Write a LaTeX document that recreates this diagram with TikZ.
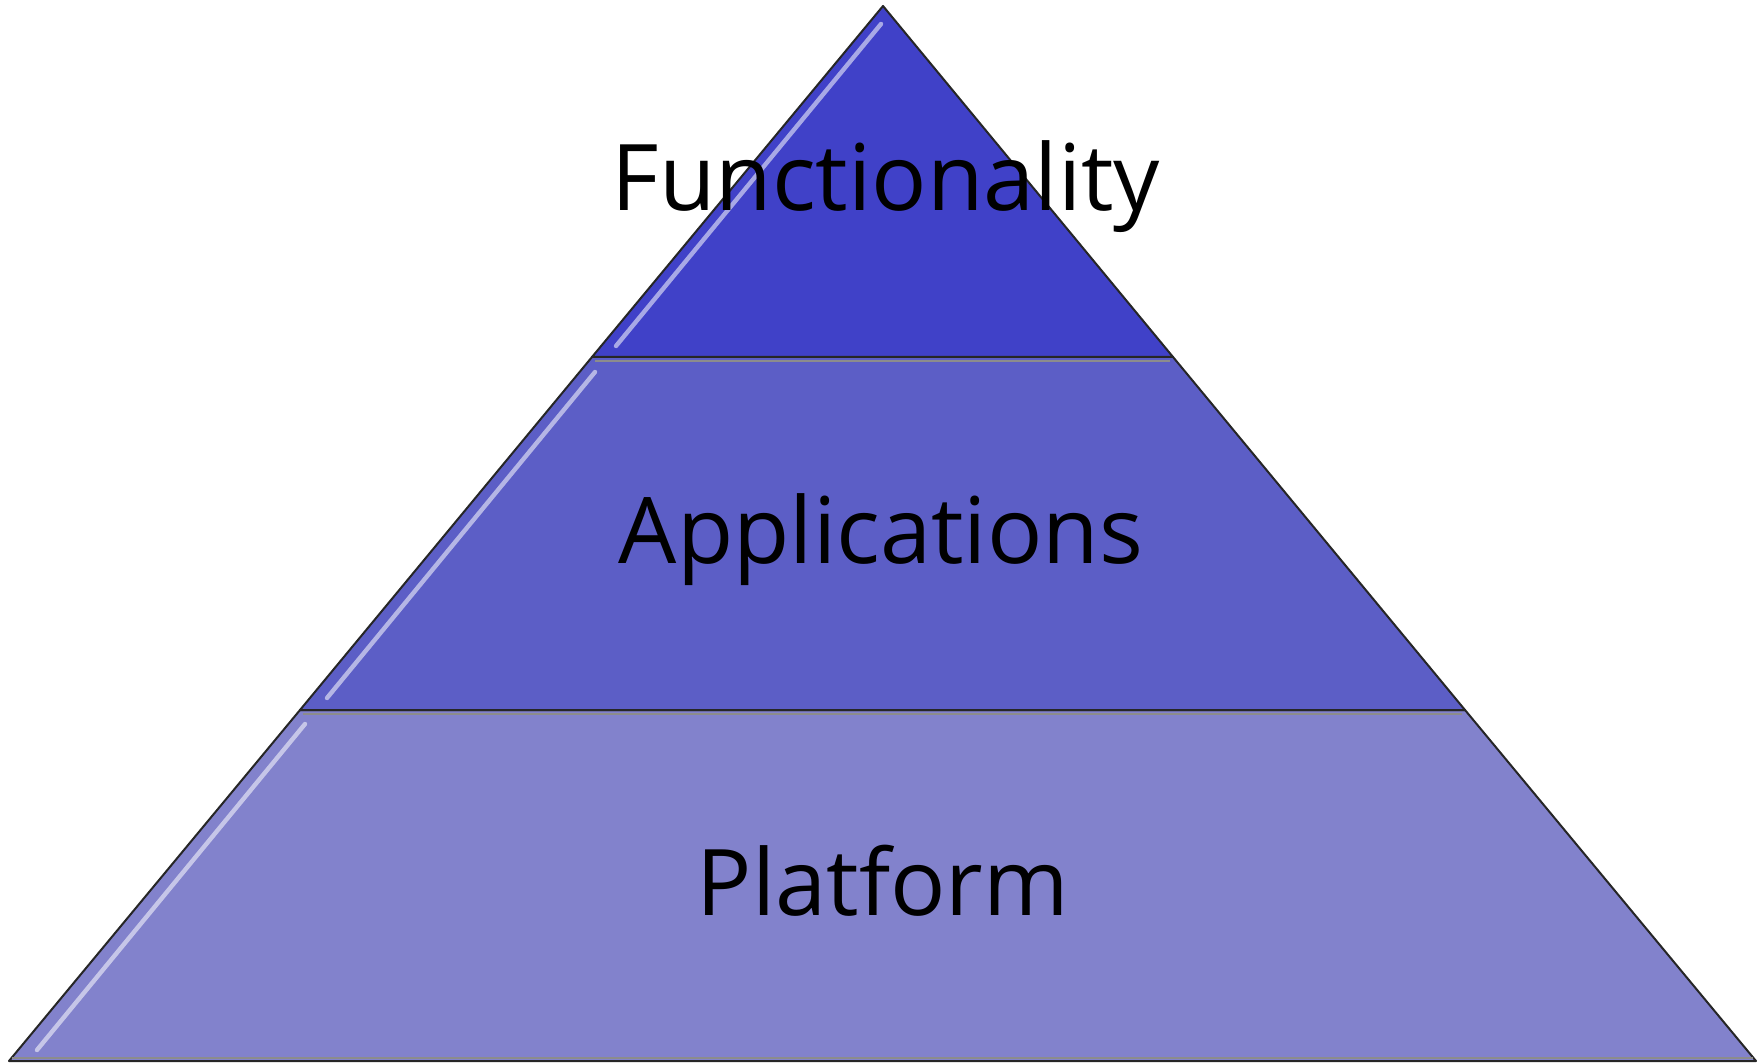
\documentclass[tikz,border=0pt]{standalone}
\usepackage{fontspec}
\setmainfont{Open Sans}
\usetikzlibrary{calc}
\definecolor{topc}{RGB}{64,65,200}
\definecolor{midc}{RGB}{92,94,198}
\definecolor{botc}{RGB}{130,130,204}
\begin{document}
\begin{tikzpicture}[x=0.5pt,y=-0.5pt,
  band/.style={draw=black!85,line width=1pt,line join=round},
  gloss/.style={draw=white,opacity=0.55,line width=2.2pt,line cap=round},
  sep/.style={draw=black!45,line width=1pt},
  lbl/.style={anchor=base,font=\fontsize{46}{50}\selectfont,text=black,inner sep=0pt}]
\useasboundingbox (0,0) rectangle (1764,1063);
% corner coordinates
\coordinate (A) at (883,6);
\coordinate (L1) at (592,357);
\coordinate (R1) at (1173,357);
\coordinate (L2) at (300,710);
\coordinate (R2) at (1465,710);
\coordinate (L3) at (9,1061);
\coordinate (R3) at (1756,1061);
% bands
\path[band,fill=botc] (L2) -- (R2) -- (R3) -- (L3) -- cycle;
\path[band,fill=midc] (L1) -- (R1) -- (R2) -- (L2) -- cycle;
\path[band,fill=topc] (A) -- (R1) -- (L1) -- cycle;
% separator shading just below boundaries
\draw[sep] ($(L1)+(3,4)$) -- ($(R1)+(-3,4)$);
\draw[sep] ($(L2)+(3,4)$) -- ($(R2)+(-3,4)$);
\draw[sep] ($(L3)+(3,-3)$) -- ($(R3)+(-3,-3)$);
% gloss highlights
\draw[gloss] (881,24) -- (616,346);
\draw[gloss] (595,372) -- (327,698);
\draw[gloss] (305,724) -- (37,1050);
% labels
\node[lbl] (f) at (886,211) {Functionality};
\node[lbl] (a) at (881,563) {Applications};
\node[lbl] (p) at (883,915) {Platform};
\end{tikzpicture}
\end{document}
